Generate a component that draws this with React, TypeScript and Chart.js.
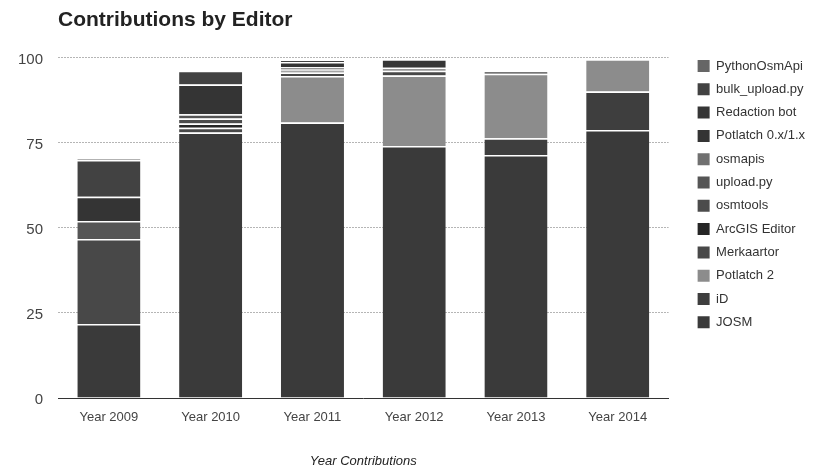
import React, { useEffect, useRef } from 'react';
import { Chart, registerables } from 'chart.js';

Chart.register(...registerables);

// Categories (x axis)
const categories = ['Year 2009', 'Year 2010', 'Year 2011', 'Year 2012', 'Year 2013', 'Year 2014'];

// Series values (percent of contributions), stacked bottom -> top
const josm = [21.7, 78.0, 80.9, 74.0, 71.4, 78.7];
const iD = [0, 0, 0, 0, 4.9, 11.3];
const potlatch2 = [0, 0, 13.7, 20.7, 18.9, 9.5];
const merkaartor = [25.0, 1.4, 1.0, 1.4, 0.9, 0];
const arcgisEditor = [0, 1.2, 0, 0, 0, 0];
const osmtools = [0, 1.5, 0.6, 0, 0, 0];
const uploadPy = [5.3, 1.2, 0.4, 0, 0, 0];
const osmapis = [0, 0, 0.5, 0.9, 0, 0];
const potlatch1 = [7.1, 8.8, 1.6, 0, 0, 0];
const redactionBot = [0, 0, 0, 2.5, 0, 0];
const bulkUpload = [10.8, 4.0, 0.6, 0, 0, 0];
const pythonOsmApi = [0.3, 0, 0, 0, 0, 0];

const seriesNames = [
  'JOSM', 'iD', 'Potlatch 2', 'Merkaartor', 'ArcGIS Editor', 'osmtools',
  'upload.py', 'osmapis', 'Potlatch 0.x/1.x', 'Redaction bot', 'bulk_upload.py', 'PythonOsmApi',
];
const seriesColors = [
  '#3a3a3a', '#3e3e3e', '#8c8c8c', '#484848', '#262626', '#4c4c4c',
  '#555555', '#707070', '#343434', '#363636', '#424242', '#666666',
];

// Y axis ticks
const yTicks = [0, 25, 50, 75, 100];

const FONT = '"Liberation Sans", Arial, Helvetica, sans-serif';

export default function App() {
  const ref = useRef<HTMLCanvasElement>(null);

  useEffect(() => {
    const seriesValues = [
      josm, iD, potlatch2, merkaartor, arcgisEditor, osmtools,
      uploadPy, osmapis, potlatch1, redactionBot, bulkUpload, pythonOsmApi,
    ];
    const chart = new Chart(ref.current as HTMLCanvasElement, {
      type: 'bar',
      data: {
        labels: categories,
        datasets: seriesNames.map((name, i) => ({
          label: name,
          data: seriesValues[i],
          backgroundColor: seriesColors[i],
          borderColor: '#ffffff',
          borderWidth: { top: 1.5, left: 0, right: 0, bottom: 0 },
          borderSkipped: false,
          categoryPercentage: 0.62,
          barPercentage: 1,
          yAxisID: 'y',
        })),
      },
      options: {
        responsive: false,
        animation: false,
        layout: { padding: { left: 0, top: 0, bottom: 0, right: 10 } },
        plugins: {
          title: {
            display: true,
            text: 'Contributions by Editor',
            align: 'start',
            fullSize: false,
            color: '#222222',
            font: { family: FONT, size: 21, weight: 'bold' },
            padding: { top: 8, bottom: 24.3 },
          },
          legend: {
            position: 'right',
            align: 'start',
            reverse: true,
            title: { display: true, text: '', padding: { top: 37.2, bottom: 0 }, font: { size: 10 } },
            labels: {
              boxWidth: 12,
              boxHeight: 12,
              padding: 10.3,
              color: '#333333',
              font: { family: FONT, size: 13 },
              generateLabels: (c: any) =>
                (Chart.defaults.plugins.legend.labels.generateLabels as any)(c).map((l: any) => ({
                  ...l,
                  lineWidth: 0,
                  strokeStyle: l.fillStyle,
                })),
            },
          },
          tooltip: { enabled: false },
        },
        scales: {
          x: {
            stacked: true,
            grid: { display: false },
            border: { display: true, color: '#333333', width: 1 },
            ticks: { color: '#444444', font: { family: FONT, size: 13 }, padding: 3.5, maxRotation: 0 },
            title: {
              display: true,
              text: 'Year Contributions',
              color: '#222222',
              font: { family: FONT, size: 13, style: 'italic' },
              padding: { top: 24.6, bottom: 7.2 },
            },
          },
          y: {
            stacked: true,
            min: yTicks[0],
            max: yTicks[yTicks.length - 1],
            afterBuildTicks: (s: any) => {
              s.ticks = yTicks.map((v) => ({ value: v }));
            },
            ticks: { color: '#444444', font: { family: FONT, size: 15 }, padding: 15, labelOffset: 2 },
            grid: {
              color: (ctx: any) => (ctx.tick && ctx.tick.value === 0 ? 'rgba(0,0,0,0)' : '#b5b5b5'),
              drawTicks: false,
              lineWidth: 1,
            },
            border: { display: false, dash: [2, 1] },
            afterFit: (s: any) => {
              s.width = 58;
            },
          },
          y2: {
            position: 'right',
            display: true,
            grid: { display: false },
            ticks: { display: false },
            border: { display: false },
            afterFit: (s: any) => {
              s.width = 18.7;
            },
          },
        },
      } as any,
    });
    return () => chart.destroy();
  }, []);

  return (
    <div style={{ position: 'absolute', left: 0, top: 0, width: 825, height: 476, background: '#ffffff' }}>
      <canvas ref={ref} width={825} height={476} />
    </div>
  );
}
